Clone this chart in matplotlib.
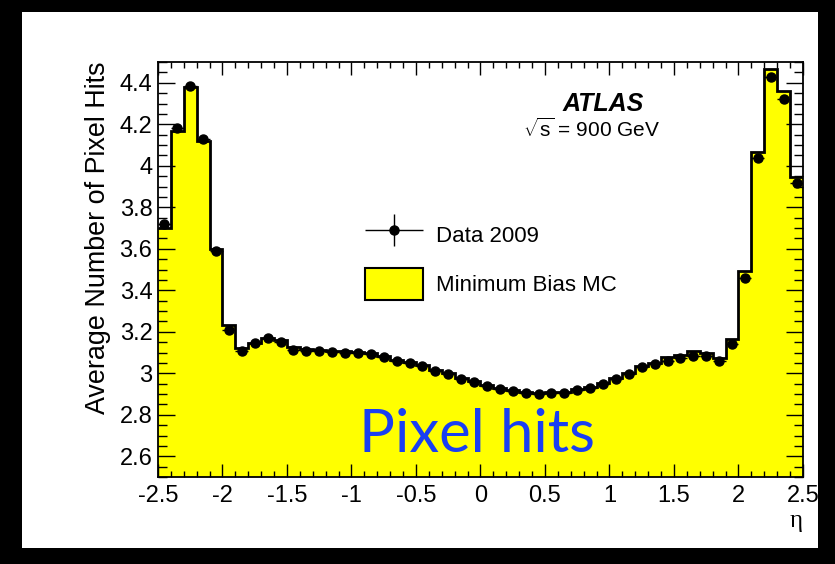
import matplotlib
matplotlib.use('Agg')
import matplotlib.pyplot as plt
import numpy as np
from matplotlib.patches import Patch, Rectangle
from matplotlib.legend_handler import HandlerErrorbar

plt.rcParams['font.family'] = ['Liberation Sans', 'DejaVu Sans']
plt.rcParams['mathtext.fontset'] = 'custom'
plt.rcParams['mathtext.rm'] = 'Liberation Sans'

# eta bin edges, 50 bins of 0.1
edges = np.round(np.arange(-2.5, 2.51, 0.1), 2)
centers = (edges[:-1] + edges[1:]) / 2

# Data 2009, average pixel hits per eta bin
data = [3.72, 4.18, 4.385, 4.13, 3.59, 3.21, 3.107, 3.145, 3.171, 3.150,
        3.113, 3.108, 3.108, 3.102, 3.100, 3.099, 3.092, 3.078, 3.060, 3.049,
        3.034, 3.012, 2.994, 2.971, 2.957, 2.939, 2.922, 2.914, 2.906, 2.898,
        2.906, 2.907, 2.918, 2.930, 2.949, 2.971, 2.994, 3.030, 3.045, 3.058,
        3.074, 3.083, 3.081, 3.058, 3.142, 3.460, 4.035, 4.429, 4.320, 3.917]

# Minimum bias MC
mc = [3.70, 4.167, 4.38, 4.12, 3.597, 3.234, 3.121, 3.145, 3.170, 3.158,
      3.126, 3.115, 3.113, 3.108, 3.106, 3.104, 3.098, 3.084, 3.066, 3.055,
      3.040, 3.018, 3.000, 2.977, 2.962, 2.944, 2.927, 2.919, 2.911, 2.904,
      2.910, 2.912, 2.923, 2.936, 2.955, 2.977, 3.000, 3.036, 3.051, 3.078,
      3.090, 3.105, 3.098, 3.073, 3.166, 3.493, 4.067, 4.466, 4.360, 3.946]

fig = plt.figure(figsize=(8.35, 5.64), dpi=100)
fig.patch.set_facecolor('black')
# white panel inside the black border
fig.patches.append(Rectangle((22 / 835, 16 / 564), 796 / 835, 536 / 564,
                             transform=fig.transFigure, facecolor='white',
                             edgecolor='none', zorder=-10))

ax = fig.add_axes([158 / 835, 1 - 477 / 564, 645 / 835, 415 / 564])
ax.set_zorder(1)

ax.stairs(mc, edges, fill=True, color='#ffff00', baseline=0, zorder=1)
ax.stairs(mc, edges, color='black', lw=2.0, baseline=None, zorder=2)
eb = ax.errorbar(centers, data, xerr=0.05, yerr=0.002, fmt='o', color='black',
                 ms=6.5, elinewidth=1.0, capsize=0, zorder=3)

ax.set_xlim(-2.5, 2.5)
ax.set_ylim(2.5, 4.5)
ax.set_xticks(np.arange(-2.5, 2.51, 0.5))
ax.set_xticklabels(['-2.5', '-2', '-1.5', '-1', '-0.5', '0', '0.5', '1', '1.5', '2', '2.5'])
ax.set_xticks(np.arange(-2.5, 2.51, 0.1), minor=True)
ax.set_yticks(np.arange(2.6, 4.41, 0.2))
ax.set_yticklabels(['2.6', '2.8', '3', '3.2', '3.4', '3.6', '3.8', '4', '4.2', '4.4'])
ax.set_yticks(np.arange(2.5, 4.51, 0.05), minor=True)

ax.tick_params(which='both', direction='in', top=True, right=True, width=1.0, labelsize=17)
ax.tick_params(axis='x', which='major', length=9.1, pad=6)
ax.tick_params(axis='x', which='minor', length=4.3)
ax.tick_params(axis='y', which='major', length=12.2, pad=4)
ax.tick_params(axis='y', which='minor', length=6.5)
for s in ax.spines.values():
    s.set_linewidth(1.3)
    s.set_zorder(4)

ax.set_xlabel('η', loc='right', fontsize=18, family=['Liberation Serif', 'DejaVu Serif'], labelpad=2)
ax.set_ylabel('Average Number of Pixel Hits', loc='top', fontsize=19.4, labelpad=6)

ax.text(0.953, 4.265, 'ATLAS', fontsize=18, fontweight='bold', style='italic',
        ha='center', va='baseline')
ax.text(0.86, 4.14, r'$\sqrt{\mathrm{s}}$ = 900 GeV', fontsize=15,
        ha='center', va='baseline')

ax.text(-0.03, 2.62, 'Pixel hits', fontsize=43, color='#1a3ff2',
        family=['Lato', 'DejaVu Sans'], ha='center', va='baseline', zorder=5)

handles = [eb, Patch(facecolor='#ffff00', edgecolor='black', linewidth=1.5)]
ax.legend(handles, ['Data 2009', 'Minimum Bias MC'], loc='upper left',
          bbox_to_anchor=(0.321, 0.624), frameon=False, fontsize=16,
          borderpad=0, borderaxespad=0, handlelength=2.6, handleheight=1.9,
          handletextpad=0.58, labelspacing=0.75,
          handler_map={type(eb): HandlerErrorbar(xerr_size=1.3, yerr_size=0.72)})

fig.savefig('out.png', dpi=100, facecolor=fig.get_facecolor())
